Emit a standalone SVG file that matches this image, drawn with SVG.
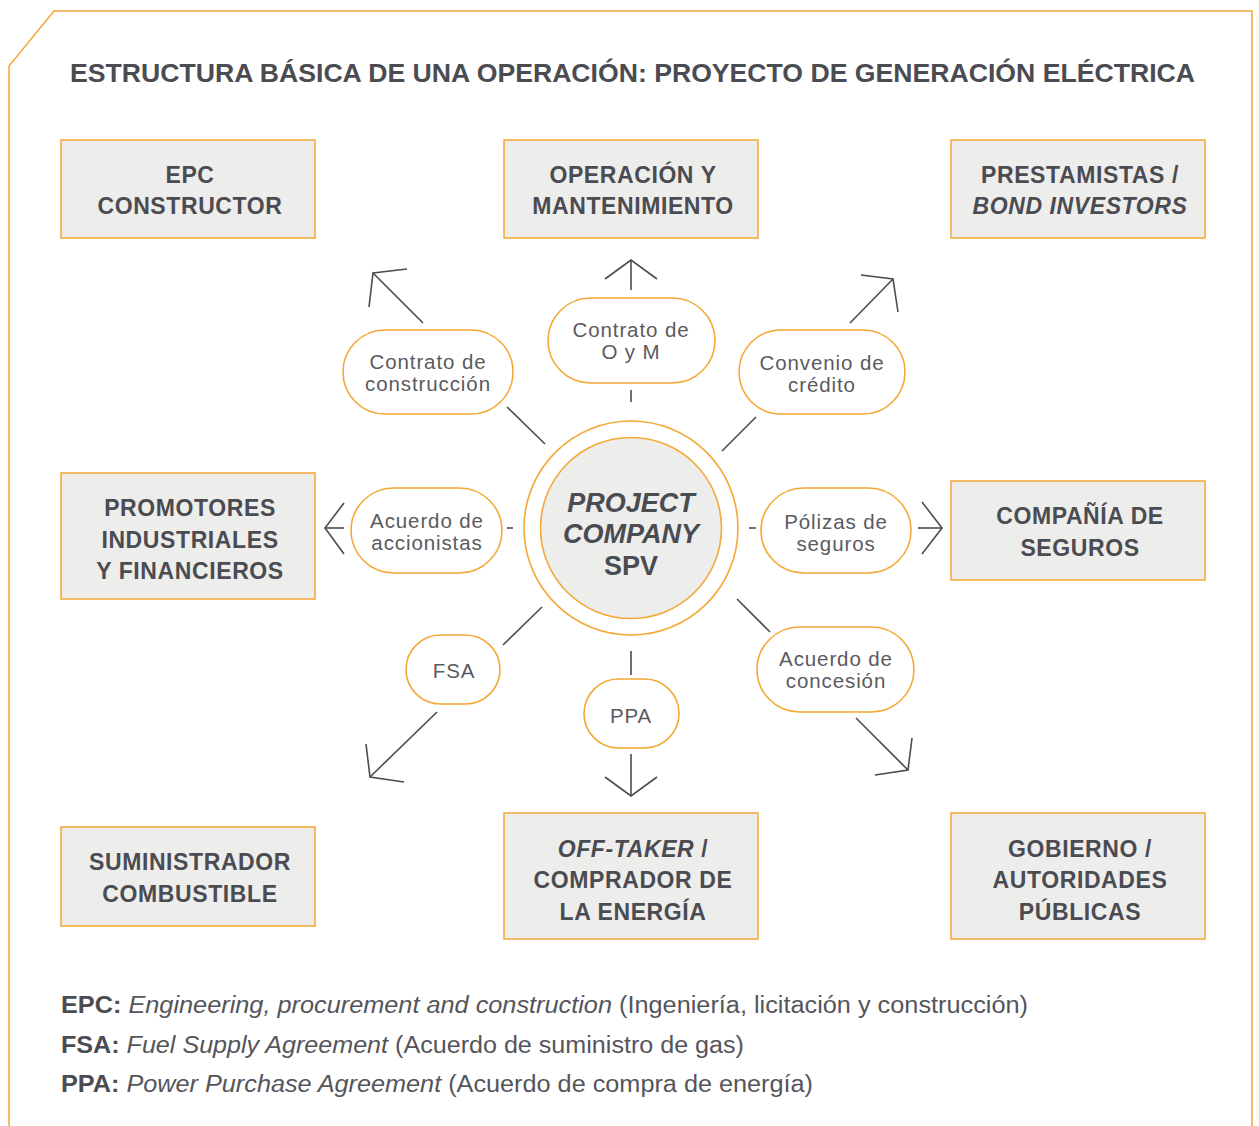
<svg xmlns="http://www.w3.org/2000/svg" width="1259" height="1126" viewBox="0 0 1259 1126">
<style>
.frame{fill:none;stroke:#f4a835;stroke-width:1.5}
.box{fill:#ededec;stroke:#f4a835;stroke-width:1.5}
.pill{fill:#fff;stroke:#f4a835;stroke-width:1.6}
.bt{font-family:"Liberation Sans",Arial,sans-serif;font-weight:bold;font-size:23px;letter-spacing:0.6px;fill:#4b4b52;text-anchor:middle}
.pt{font-family:"Liberation Sans",Arial,sans-serif;font-size:20.5px;letter-spacing:0.9px;fill:#5a5a60;text-anchor:middle}
.ct{font-family:"Liberation Sans",Arial,sans-serif;font-weight:bold;font-size:27px;fill:#4b4b52;text-anchor:middle}
.ft{font-family:"Liberation Sans",Arial,sans-serif;font-size:23px;fill:#55555b}
.title{font-family:"Liberation Sans",Arial,sans-serif;font-weight:bold;font-size:25px;fill:#4b4b52}
.ln{fill:none;stroke:#4b4b52;stroke-width:1.6}
</style>
<rect width="1259" height="1126" fill="#fff"/>
<polyline class="frame" points="9,1126 9,66 54,11 1252,11 1252,1126"/>
<text class="title" x="70" y="82" textLength="1125" lengthAdjust="spacingAndGlyphs">ESTRUCTURA BÁSICA DE UNA OPERACIÓN: PROYECTO DE GENERACIÓN ELÉCTRICA</text>

<g id="epc"><rect class="box" x="61" y="140" width="254" height="98"/><text class="bt" x="190" y="183">EPC</text><text class="bt" x="190" y="214">CONSTRUCTOR</text></g>
<g id="oym"><rect class="box" x="504" y="140" width="254" height="98"/><text class="bt" x="633" y="183">OPERACIÓN Y</text><text class="bt" x="633" y="214">MANTENIMIENTO</text></g>
<g id="prestamistas"><rect class="box" x="951" y="140" width="254" height="98"/><text class="bt" x="1080" y="183">PRESTAMISTAS /</text><text class="bt" x="1080" y="214" font-style="italic">BOND INVESTORS</text></g>
<g id="promotores"><rect class="box" x="61" y="473" width="254" height="126"/><text class="bt" x="190" y="516">PROMOTORES</text><text class="bt" x="190" y="548">INDUSTRIALES</text><text class="bt" x="190" y="579">Y FINANCIEROS</text></g>
<g id="seguros"><rect class="box" x="951" y="481" width="254" height="99"/><text class="bt" x="1080" y="524">COMPAÑÍA DE</text><text class="bt" x="1080" y="556">SEGUROS</text></g>
<g id="suministrador"><rect class="box" x="61" y="827" width="254" height="99"/><text class="bt" x="190" y="870">SUMINISTRADOR</text><text class="bt" x="190" y="902">COMBUSTIBLE</text></g>
<g id="offtaker"><rect class="box" x="504" y="813" width="254" height="126"/><text class="bt" x="633" y="857"><tspan font-style="italic">OFF-TAKER</tspan> /</text><text class="bt" x="633" y="888">COMPRADOR DE</text><text class="bt" x="633" y="920">LA ENERGÍA</text></g>
<g id="gobierno"><rect class="box" x="951" y="813" width="254" height="126"/><text class="bt" x="1080" y="857">GOBIERNO /</text><text class="bt" x="1080" y="888">AUTORIDADES</text><text class="bt" x="1080" y="920">PÚBLICAS</text></g>

<g id="spv">
<circle cx="631" cy="528" r="107" fill="#fff" stroke="#f4a835" stroke-width="1.6"/>
<circle cx="631" cy="528" r="90.5" fill="#ededec" stroke="#f4a835" stroke-width="1.6"/>
<text class="ct" x="631" y="512" font-style="italic">PROJECT</text>
<text class="ct" x="631" y="543" font-style="italic">COMPANY</text>
<text class="ct" x="631" y="575">SPV</text>
</g>

<g id="p-construccion"><rect class="pill" x="343" y="330" width="170" height="84" rx="42"/><text class="pt" x="428" y="368.5">Contrato de</text><text class="pt" x="428" y="390.5">construcción</text></g>
<g id="p-oym"><rect class="pill" x="548" y="298" width="167" height="85" rx="42.5"/><text class="pt" x="631" y="336.5">Contrato de</text><text class="pt" x="631" y="358.5">O y M</text></g>
<g id="p-credito"><rect class="pill" x="739" y="330" width="166" height="84" rx="42"/><text class="pt" x="822" y="369.5">Convenio de</text><text class="pt" x="822" y="391.5">crédito</text></g>
<g id="p-accionistas"><rect class="pill" x="351" y="488" width="151" height="85" rx="42.5"/><text class="pt" x="427" y="527.5">Acuerdo de</text><text class="pt" x="427" y="549.5">accionistas</text></g>
<g id="p-polizas"><rect class="pill" x="761" y="488" width="150" height="85" rx="42.5"/><text class="pt" x="836" y="528.5">Pólizas de</text><text class="pt" x="836" y="550.5">seguros</text></g>
<g id="p-fsa"><rect class="pill" x="406" y="635" width="94" height="69" rx="34.5"/><text class="pt" x="454" y="678">FSA</text></g>
<g id="p-ppa"><rect class="pill" x="584" y="679" width="95" height="69" rx="34.5"/><text class="pt" x="631" y="723">PPA</text></g>
<g id="p-concesion"><rect class="pill" x="757" y="627" width="157" height="85" rx="42.5"/><text class="pt" x="836" y="665.5">Acuerdo de</text><text class="pt" x="836" y="687.5">concesión</text></g>

<g id="connectors">
<line class="ln" x1="545" y1="444" x2="507" y2="407"/>
<line class="ln" x1="423" y1="323" x2="373" y2="273"/>
<polyline class="ln" points="407,269 373,273 369,307"/>

<line class="ln" x1="631" y1="402" x2="631" y2="390"/>
<line class="ln" x1="631" y1="290" x2="631" y2="260"/>
<polyline class="ln" points="605,279 631,260 657,279"/>

<line class="ln" x1="722" y1="451" x2="756" y2="417"/>
<line class="ln" x1="850" y1="323" x2="893" y2="279"/>
<polyline class="ln" points="861,275 893,279 898,312"/>

<line class="ln" x1="513" y1="528" x2="507" y2="528"/>
<line class="ln" x1="344" y1="528" x2="325" y2="528"/>
<polyline class="ln" points="344,503 325,528 344,554"/>

<line class="ln" x1="749" y1="528" x2="756" y2="528"/>
<line class="ln" x1="918" y1="528" x2="942" y2="528"/>
<polyline class="ln" points="922,502 942,528 922,554"/>

<line class="ln" x1="542" y1="607" x2="503" y2="645"/>
<line class="ln" x1="437" y1="712" x2="370" y2="777"/>
<polyline class="ln" points="366,744 370,777 404,782"/>

<line class="ln" x1="631" y1="651" x2="631" y2="675"/>
<line class="ln" x1="631" y1="754" x2="631" y2="796"/>
<polyline class="ln" points="605,777 631,796 657,777"/>

<line class="ln" x1="737" y1="599" x2="770" y2="632"/>
<line class="ln" x1="856" y1="718" x2="908" y2="770"/>
<polyline class="ln" points="912,738 908,770 875,775"/>
</g>

<g id="notes">
<text class="ft" x="61" y="1013" textLength="967" lengthAdjust="spacingAndGlyphs"><tspan font-weight="bold" fill="#4b4b52">EPC:</tspan> <tspan font-style="italic">Engineering, procurement and construction</tspan> (Ingeniería, licitación y construcción)</text>
<text class="ft" x="61" y="1053" textLength="683" lengthAdjust="spacingAndGlyphs"><tspan font-weight="bold" fill="#4b4b52">FSA:</tspan> <tspan font-style="italic">Fuel Supply Agreement</tspan> (Acuerdo de suministro de gas)</text>
<text class="ft" x="61" y="1092" textLength="752" lengthAdjust="spacingAndGlyphs"><tspan font-weight="bold" fill="#4b4b52">PPA:</tspan> <tspan font-style="italic">Power Purchase Agreement</tspan> (Acuerdo de compra de energía)</text>
</g>
</svg>
